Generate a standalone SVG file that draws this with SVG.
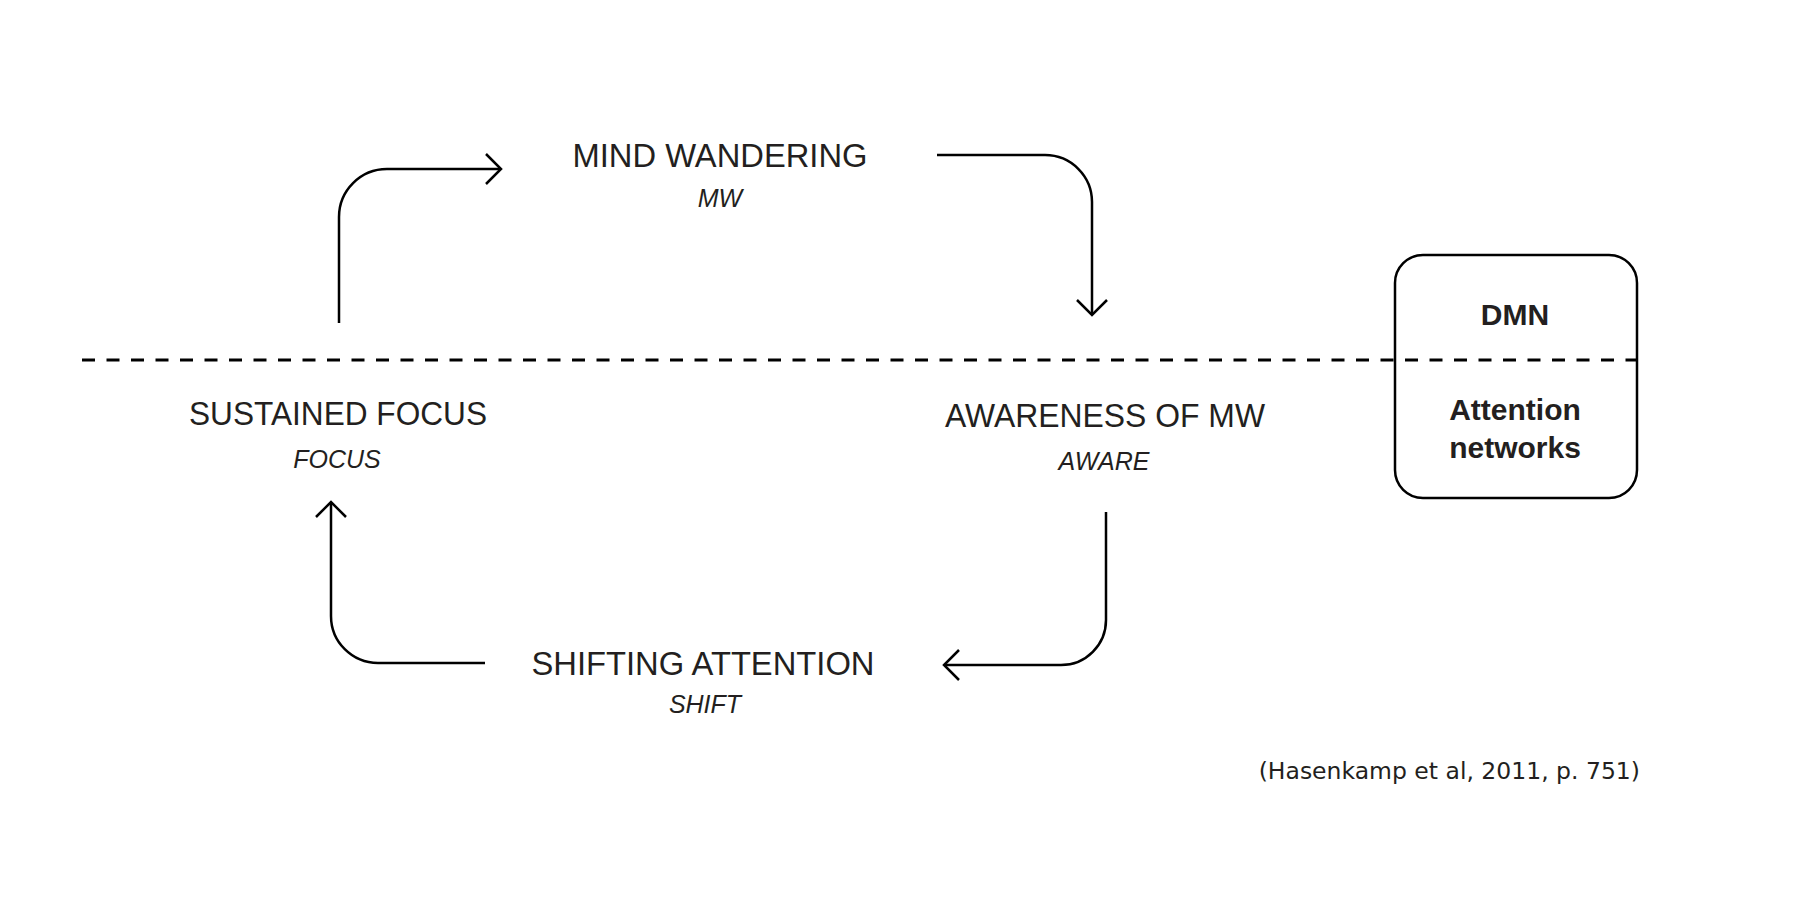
<svg xmlns="http://www.w3.org/2000/svg" width="1794" height="906" viewBox="0 0 1794 906">
<style>
.lbl{font-family:"Liberation Sans",Arial,sans-serif;font-size:34px;fill:#231f20;text-anchor:middle}
.sub{font-family:"Liberation Sans",Arial,sans-serif;font-size:25px;font-style:italic;fill:#231f20;text-anchor:middle}
.box{font-family:"Liberation Sans",Arial,sans-serif;font-size:30px;font-weight:bold;fill:#231f20;text-anchor:middle}
.cite{font-family:"DejaVu Sans",sans-serif;font-size:23.5px;fill:#231f20;text-anchor:end}
.conn{fill:none;stroke:#000;stroke-width:2.5}
</style>
<defs>
<marker id="chev" markerUnits="userSpaceOnUse" viewBox="-18 -18 21 36" markerWidth="21" markerHeight="36" refX="0" refY="0" orient="auto">
<path d="M-15,-15 L0,0 L-15,15" fill="none" stroke="#000" stroke-width="2.5"/>
</marker>
</defs>
<rect width="1794" height="906" fill="#fff"/>
<g id="divider">
<path d="M82,360 H1638" fill="none" stroke="#000" stroke-width="3" stroke-dasharray="13 11.5"/>
</g>
<g id="connectors">
<path class="conn" d="M339,323 V217 A48,48 0 0 1 387,169 H501" marker-end="url(#chev)"/>
<path class="conn" d="M937,155 H1045 A47,47 0 0 1 1092,202 V315" marker-end="url(#chev)"/>
<path class="conn" d="M1106,512 V620 A45,45 0 0 1 1061,665 H944" marker-end="url(#chev)"/>
<path class="conn" d="M485,663 H378 A47,47 0 0 1 331,616 V502" marker-end="url(#chev)"/>
</g>
<g id="node-mw">
<text class="lbl" x="720" y="167" textLength="295" lengthAdjust="spacingAndGlyphs">MIND WANDERING</text>
<text class="sub" x="720" y="207">MW</text>
</g>
<g id="node-focus">
<text class="lbl" x="338" y="425" textLength="298" lengthAdjust="spacingAndGlyphs">SUSTAINED FOCUS</text>
<text class="sub" x="337" y="468">FOCUS</text>
</g>
<g id="node-aware">
<text class="lbl" x="1105" y="427" textLength="320" lengthAdjust="spacingAndGlyphs">AWARENESS OF MW</text>
<text class="sub" x="1104" y="470">AWARE</text>
</g>
<g id="node-shift">
<text class="lbl" x="703" y="675" textLength="343" lengthAdjust="spacingAndGlyphs">SHIFTING ATTENTION</text>
<text class="sub" x="705" y="713">SHIFT</text>
</g>
<g id="node-legend">
<rect x="1395" y="255" width="242" height="243" rx="28" ry="28" fill="none" stroke="#000" stroke-width="2.5"/>
<text class="box" x="1515" y="325">DMN</text>
<text class="box" x="1515" y="420">Attention</text>
<text class="box" x="1515" y="458">networks</text>
</g>
<g id="citation">
<text class="cite" x="1640" y="779">(Hasenkamp et al, 2011, p. 751)</text>
</g>
</svg>
